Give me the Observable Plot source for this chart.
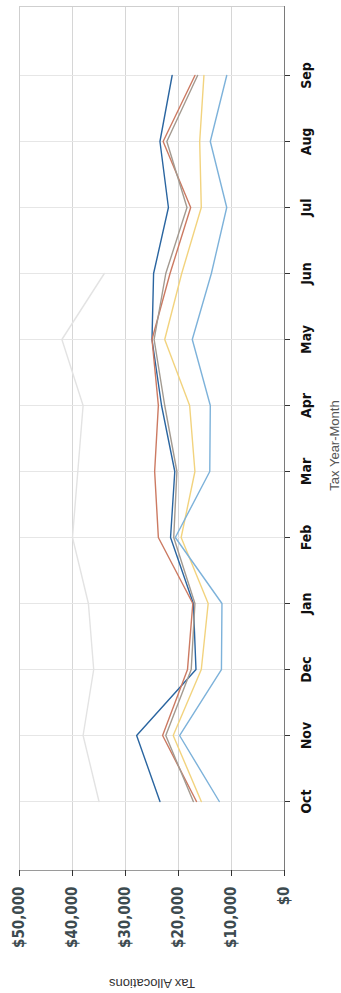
<!DOCTYPE html>
<html>
<head>
<meta charset="utf-8">
<script src="https://cdn.jsdelivr.net/npm/d3@7"></script>
<script src="https://cdn.jsdelivr.net/npm/@observablehq/plot@0.6"></script>
<style>
  html, body { margin: 0; padding: 0; background: #fff; }
</style>
</head>
<body>
<div id="chart"></div>
<script>
// Tax year months (Oct -> Sep)
const months = ["Oct", "Nov", "Dec", "Jan", "Feb", "Mar", "Apr", "May", "Jun", "Jul", "Aug", "Sep"];

// Series values (in dollars)
const seriesNames = ["Series 1", "Series 2", "Series 3", "Series 4", "Series 5", "Series 6"];
const series1 = [23500, 27900, 16700, 17200, 21500, 20700, 23200, 25000, 24700, 21900, 23500, 21200];
const series2 = [16600, 23000, 18300, 17300, 23800, 24500, 23800, 25000, 21600, 17700, 22900, 16900];
const series3 = [17200, 22400, 17600, 16900, 20900, 20300, 22600, 24600, 22400, 18400, 22200, 16400];
const series4 = [15700, 21000, 15700, 14400, 19500, 16900, 17900, 22600, 19400, 15700, 16000, 15200];
const series5 = [12300, 19800, 11900, 11800, 20600, 14100, 14000, 17400, 13800, 10900, 14000, 10900];
const series6 = [35000, 38000, 36000, 37000, 40000, 39000, 38000, 42000, 34000, null, null, null];

// Value axis ticks
const valueTicks = [0, 10000, 20000, 30000, 40000, 50000];

// Colours (faded scan of an Office palette)
const seriesColors = ["#2a65a0", "#cc7a62", "#a39a90", "#f2d37e", "#7db2da", "#e3e3e3"];

const allSeries = [series1, series2, series3, series4, series5, series6];
const rows = allSeries.flatMap((vals, i) =>
  months.map((m, j) => ({ series: seriesNames[i], month: m, value: vals[j] }))
    .filter(d => d.value != null)
);

const chart = Plot.plot({
  width: 341,
  height: 993,
  marginLeft: 19,
  marginRight: 57,
  marginTop: 6,
  marginBottom: 123,
  style: {
    fontFamily: "'DejaVu Sans Condensed', 'Liberation Sans', sans-serif",
    background: "#fff"
  },
  x: { domain: [0, 50000], reverse: true },
  y: { type: "point", domain: months, reverse: true, padding: 1 },
  color: { domain: seriesNames, range: seriesColors },
  marks: [
    Plot.gridX(valueTicks, { stroke: "#d6d6d6", strokeOpacity: 1 }),
    Plot.gridY(months, { stroke: "#e6e6e6", strokeOpacity: 1 }),
    Plot.frame({ stroke: "#cfcfcf" }),
    Plot.frame({ anchor: "bottom", stroke: "#9a9a9a" }),
    Plot.ruleX([0], { stroke: "#7a7a7a" }),
    Plot.line(rows, { x: "value", y: "month", z: "series", stroke: "series", strokeWidth: 1.4 }),
    Plot.axisX(valueTicks, {
      anchor: "bottom", tickRotate: -90, tickFormat: d3.format("$,"),
      tickSize: 6, tickPadding: 10, fontSize: 15, fontWeight: "bold",
      fill: "#3d4b50", stroke: "#333", label: null
    }),
    Plot.axisY(months, {
      anchor: "right", tickRotate: -90, tickSize: 5, tickPadding: 17,
      textAnchor: "middle", lineAnchor: "middle",
      fontSize: 14, fontWeight: "bold", fill: "#111", stroke: "#333", label: null
    }),
    Plot.text(["Tax Allocations"], {
      frameAnchor: "bottom", dy: 108, rotate: 180, fontSize: 13, fill: "#333",
      textAnchor: "middle", fontFamily: "'Liberation Sans', sans-serif"
    }),
    Plot.text(["Tax Year-Month"], {
      frameAnchor: "right", dx: 50, dy: 7, rotate: -90, fontSize: 13, fill: "#555",
      textAnchor: "middle", fontFamily: "'Liberation Sans', sans-serif"
    })
  ]
});

document.getElementById("chart").appendChild(chart);
</script>
</body>
</html>
